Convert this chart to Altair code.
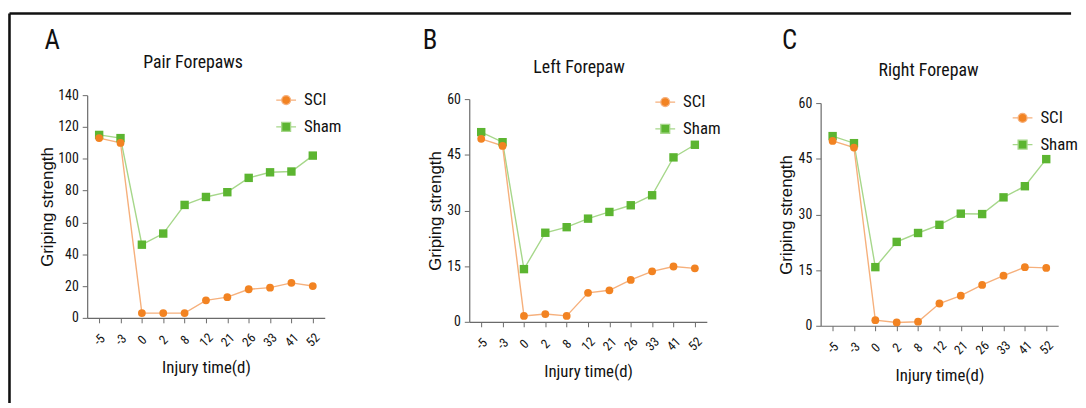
import altair as alt
import pandas as pd

# ---------------- data ----------------
days = ["-5", "-3", "0", "2", "8", "12", "21", "26", "33", "41", "52"]
series_names = ["SCI", "Sham"]
panel_letters = ["A", "B", "C"]
panel_titles = ["Pair Forepaws", "Left Forepaw", "Right Forepaw"]

pair_sci = [113, 110, 3, 3, 3, 11, 13, 18, 19, 22, 20]
pair_sham = [115, 113, 46, 53, 71, 76, 79, 88, 91.5, 92, 102]
left_sci = [49.3, 47.4, 1.6, 2.1, 1.6, 7.8, 8.5, 11.3, 13.6, 14.9, 14.4]
left_sham = [51.1, 48.4, 14.2, 24.0, 25.5, 27.8, 29.6, 31.4, 34.1, 44.3, 47.7]
right_sci = [49.8, 48.0, 1.5, 0.9, 1.1, 6.0, 8.1, 11.0, 13.5, 15.8, 15.6]
right_sham = [51.1, 49.2, 15.8, 22.6, 25.0, 27.2, 30.2, 30.1, 34.6, 37.6, 44.9]

y_max = [140, 60, 60]
y_ticks = [[0, 20, 40, 60, 80, 100, 120, 140], [0, 15, 30, 45, 60], [0, 15, 30, 45, 60]]

# ---------------- style ----------------
NARROW = "Liberation Sans Narrow, Roboto Condensed, Roboto, sans-serif"
WIDE = "Liberation Sans, Open Sans, sans-serif"
OR = "#F28322"
GR = "#5CB531"
LINE_OR = "#F6B07C"
LINE_GR = "#A6D78A"
AX = "#6a6a6a"
CIRCLE_PATH = "M-1,0H-0.45M0.45,0H1M-0.45,0A0.45,0.45,0,1,0,0.45,0A0.45,0.45,0,1,0,-0.45,0Z"
SQUARE_PATH = "M-1,0H-0.45M0.45,0H1M-0.45,-0.45H0.45V0.45H-0.45Z"

one = pd.DataFrame({"k": [0]})


def panel(idx, sci, sham, width, height, yrange, lx, ly, letter_x, title_x, title_y, ytitle_x, border=False):
    df = pd.DataFrame({
        "day": days * 2,
        "series": ["SCI"] * len(days) + ["Sham"] * len(days),
        "value": sci + sham,
    })
    x = alt.X(
        "day:O", sort=days,
        scale=alt.Scale(type="point", domain=days, range=[0, 240], padding=0.56),
        axis=alt.Axis(
            title="Injury time(d)", labelAngle=315, labelAlign="center", labelBaseline="middle",
            labelPadding=17, tickSize=5, tickColor=AX, domainColor=AX, domainWidth=1.2,
            labelFont=NARROW, labelFontSize=13, labelColor="#111",
            titleFont=NARROW, titleFontSize=17, titleFontWeight="normal", titleColor="#111",
            titlePadding=11,
        ),
    )
    y = alt.Y(
        "value:Q",
        scale=alt.Scale(domain=[0, y_max[idx]], range=yrange, nice=False, zero=True),
        axis=alt.Axis(
            values=y_ticks[idx], title="Griping strength", tickSize=5, tickColor=AX,
            domainColor=AX, domainWidth=1.2, labelPadding=4,
            labelFont=NARROW, labelFontSize=14, labelColor="#111",
            titleFont=WIDE, titleFontSize=17, titleFontWeight="normal", titleColor="#111",
            titleX=ytitle_x,
        ),
    )
    base = alt.Chart(df)
    line_sham = base.transform_filter("datum.series == 'Sham'").mark_line(
        color=LINE_GR, strokeWidth=1.4).encode(x=x, y=y)
    line_sci = base.transform_filter("datum.series == 'SCI'").mark_line(
        color=LINE_OR, strokeWidth=1.4).encode(x=x, y=y)
    pts_sham = base.transform_filter("datum.series == 'Sham'").mark_square(
        color=GR, size=72, opacity=1).encode(x=x, y=y)
    pts_sci = base.transform_filter("datum.series == 'SCI'").mark_circle(
        color=OR, size=62, opacity=1).encode(x=x, y=y)

    leg = alt.Legend(
        title=None, orient="none", legendX=lx, legendY=ly, symbolSize=400,
        symbolStrokeWidth=1.3, labelFont=NARROW, labelFontSize=17, labelColor="#111",
        labelOffset=7, rowPadding=8, padding=0,
    )
    legend_layer = base.transform_filter("false").mark_point(
        filled=True, opacity=1, size=400, strokeWidth=1.3).encode(
        shape=alt.Shape("series:N", scale=alt.Scale(domain=series_names, range=[CIRCLE_PATH, SQUARE_PATH]), legend=leg),
        fill=alt.Fill("series:N", scale=alt.Scale(domain=series_names, range=[OR, GR]), legend=leg),
        stroke=alt.Stroke("series:N", scale=alt.Scale(domain=series_names, range=[LINE_OR, LINE_GR]), legend=leg),
    )

    letter = alt.Chart(one).mark_text(
        text=panel_letters[idx], align="left", baseline="alphabetic",
        font=NARROW, fontSize=27, color="#111").encode(x=alt.value(letter_x), y=alt.value(-47))
    title = alt.Chart(one).mark_text(
        text=panel_titles[idx], align="center", baseline="alphabetic",
        font=NARROW, fontSize=18, color="#111").encode(x=alt.value(title_x), y=alt.value(title_y))

    layers = [line_sham, line_sci, pts_sham, pts_sci, legend_layer, letter, title]
    if border:
        top_rule = alt.Chart(one).mark_rule(color="#111", strokeWidth=2.6).encode(
            x=alt.value(-78.5), x2=alt.value(994), y=alt.value(-82.5))
        left_rule = alt.Chart(one).mark_rule(color="#111", strokeWidth=2.6).encode(
            x=alt.value(-78.5), y=alt.value(-82.5), y2=alt.value(311))
        layers += [top_rule, left_rule]
    return alt.layer(*layers).properties(width=width, height=height)


pA = panel(0, pair_sci, pair_sham, 271, 225, [225, 0], 190, -6, -43, 107, -27, -31, border=True)
pB = panel(1, left_sci, left_sham, 240, 229, [229, 4], 187, -4, -47, 111, -22, -25)
pC = panel(2, right_sci, right_sham, 240, 233, [233, 8], 193, 12, -39, 109, -19, -25)

chart = alt.hconcat(pA, pB, pC, spacing=115, bounds="flush").resolve_scale(
    fill="independent", stroke="independent", shape="independent"
).resolve_legend(
    fill="independent", stroke="independent", shape="independent"
).configure_view(stroke=None).configure_axis(grid=False).properties(
    padding={"left": 0, "top": 2, "right": 0, "bottom": 0},
    background="white",
)

chart.save("out.html", embed_options={"renderer": "svg", "actions": False})
